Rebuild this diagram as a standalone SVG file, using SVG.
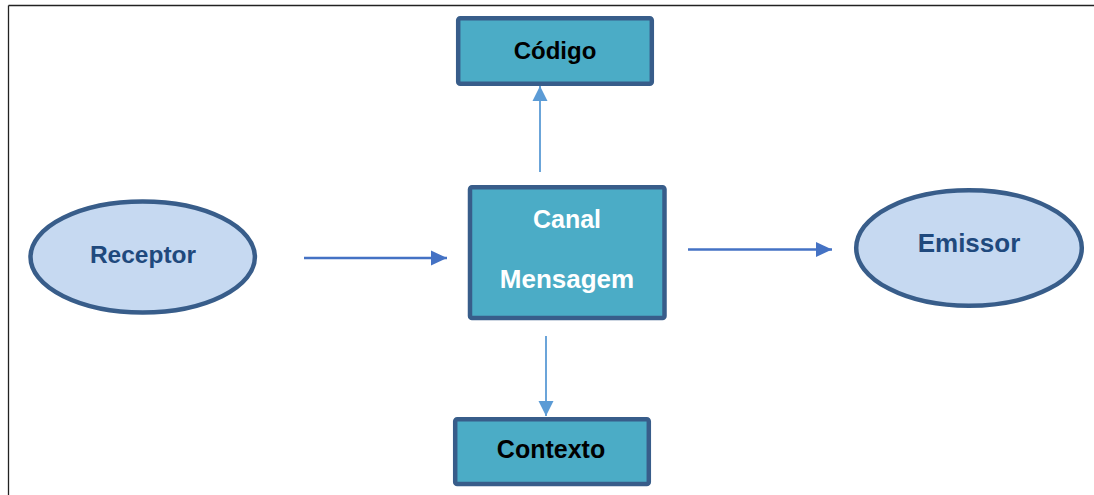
<svg xmlns="http://www.w3.org/2000/svg" width="1094" height="495" viewBox="0 0 1094 495">
<style>
.box{fill:#4BACC6;stroke:#385D8A;stroke-width:4.5}
.ell{fill:#C6D9F1;stroke:#385D8A;stroke-width:4.5}
.t{font-family:"Liberation Sans",Arial,sans-serif;font-weight:bold;font-size:24px;text-anchor:middle}
.dark{fill:#000}
.white{fill:#fff}
.navy{fill:#1F497D}
.lc{stroke:#5B9BD5;stroke-width:1.8;fill:none}
.ld{stroke:#4472C4;stroke-width:2.5;fill:none}
</style>
<defs>
<marker id="mLight" markerUnits="userSpaceOnUse" markerWidth="16" markerHeight="16" refX="15" refY="8" orient="auto">
<path d="M0,0.5 L15,8 L0,15.5 Z" fill="#5B9BD5"/>
</marker>
<marker id="mDark" markerUnits="userSpaceOnUse" markerWidth="17" markerHeight="17" refX="16" refY="8.5" orient="auto">
<path d="M0,1 L16,8.5 L0,16 Z" fill="#4472C4"/>
</marker>
</defs>
<rect width="1094" height="495" fill="#fff"/>
<g id="frame" fill="none" stroke="#222" stroke-width="1.3">
<line x1="8.5" y1="5.5" x2="1094" y2="5.5"/>
<line x1="8.5" y1="5.5" x2="8.5" y2="495"/>
</g>
<g id="connectors">
<line class="lc" x1="540" y1="172" x2="540" y2="86" marker-end="url(#mLight)"/>
<line class="lc" x1="546" y1="336" x2="546" y2="416" marker-end="url(#mLight)"/>
<line class="ld" x1="304" y1="258" x2="447" y2="258" marker-end="url(#mDark)"/>
<line class="ld" x1="688" y1="249.5" x2="832" y2="249.5" marker-end="url(#mDark)"/>
</g>
<g id="codigo">
<rect class="box" x="458.2" y="18.2" width="193.6" height="65.6" rx="2"/>
<text class="t dark" x="555" y="59">Código</text>
</g>
<g id="canal">
<rect class="box" x="470" y="187.2" width="194.5" height="130.8" rx="2"/>
<text class="t white" x="567" y="227.5" style="font-size:25px">Canal</text>
<text class="t white" x="567" y="288" style="font-size:26px">Mensagem</text>
</g>
<g id="contexto">
<rect class="box" x="455.2" y="419.2" width="193.6" height="64.8" rx="2"/>
<text class="t dark" x="551" y="458" style="font-size:25px">Contexto</text>
</g>
<g id="receptor">
<ellipse class="ell" cx="142.7" cy="257" rx="112.2" ry="55.5"/>
<text class="t navy" x="143" y="263" style="font-size:24.5px">Receptor</text>
</g>
<g id="emissor">
<ellipse class="ell" cx="969" cy="248" rx="112.8" ry="57.8"/>
<text class="t navy" x="969" y="252" style="font-size:26px">Emissor</text>
</g>
</svg>
